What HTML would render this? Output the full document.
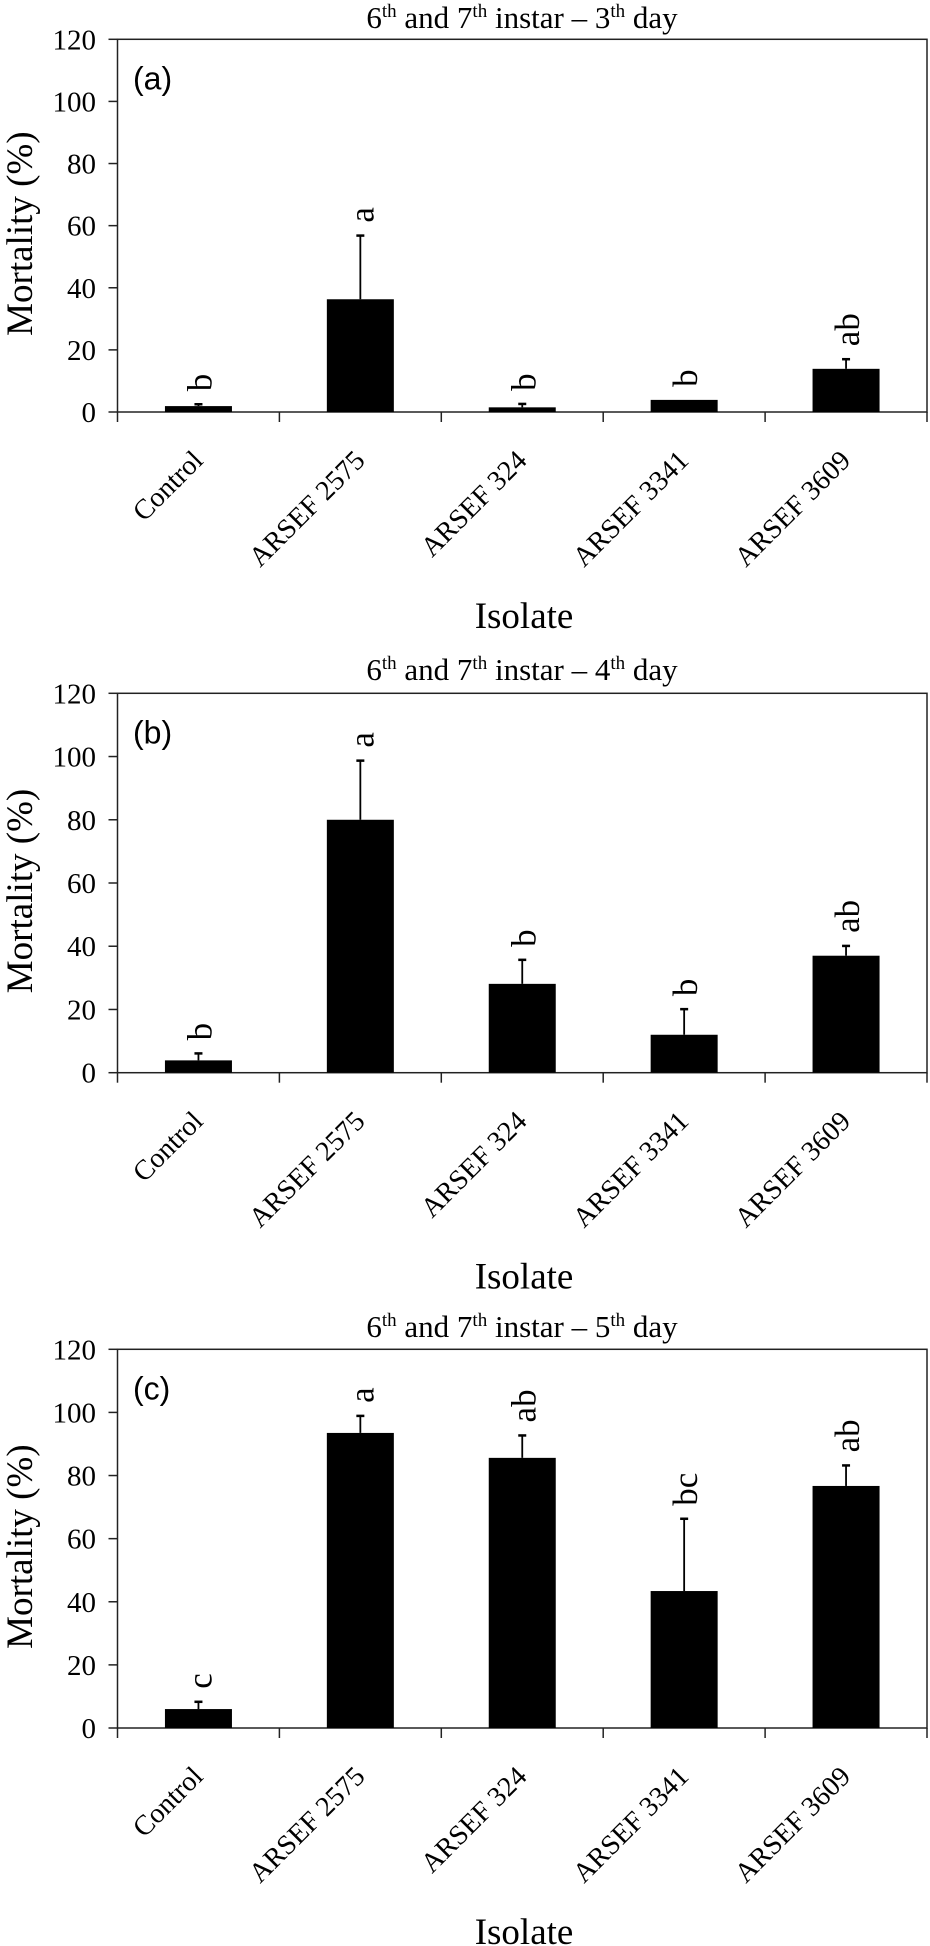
<!DOCTYPE html>
<html><head><meta charset="utf-8"><style>
html,body{margin:0;padding:0;background:#fff;}
svg{display:block;}
svg text{font-family:"Liberation Serif","Times New Roman",serif;fill:#000;}
</style></head>
<body>
<svg id="fig" width="930" height="1946" viewBox="0 0 930 1946" xmlns="http://www.w3.org/2000/svg" font-family="Liberation Serif, serif"></svg>
<script>
const categories = ["Control","ARSEF 2575","ARSEF 324","ARSEF 3341","ARSEF 3609"];
const yTicks = [0,20,40,60,80,100,120];
const titlesDay = ["3","4","5"];
const panelLetters = ["(a)","(b)","(c)"];
const valuesA = [1.9, 36.3, 1.5, 3.9, 13.9];
const errTopA = [2.5, 56.8, 2.6, 3.9, 17.0];
const lettersA = ["b","a","b","b","ab"];
const valuesB = [3.9, 80.0, 28.1, 12.0, 37.0];
const errTopB = [6.1, 98.7, 35.7, 20.1, 40.1];
const lettersB = ["b","a","b","b","ab"];
const valuesC = [6.0, 93.5, 85.6, 43.4, 76.7];
const errTopC = [8.3, 98.9, 92.7, 66.3, 83.2];
const lettersC = ["c","a","ab","bc","ab"];

const NS = "http://www.w3.org/2000/svg";
const svg = document.getElementById("fig");
const SERIF = '"Liberation Serif", serif';
function mk(tag, attrs, parent){
  const e = document.createElementNS(NS, tag);
  for (const k in attrs) e.setAttribute(k, attrs[k]);
  if (tag === "text" && !attrs.style) e.setAttribute("style", "font-family:" + SERIF);
  (parent||svg).appendChild(e);
  return e;
}
const layouts = [
  {top:39.3, bottom:412, left:117.5, right:927, titleY:28},
  {top:693.3, bottom:1072.7, left:117.5, right:927, titleY:680},
  {top:1349.3, bottom:1728, left:117.5, right:927, titleY:1337}
];
const panelVals = [valuesA, valuesB, valuesC];
const panelErr = [errTopA, errTopB, errTopC];
const panelSig = [lettersA, lettersB, lettersC];

layouts.forEach((L, p) => {
  const g = mk("g", {});
  
  
  const y = v => L.bottom - (v/120)*(L.bottom - L.top);
  const catW = (L.right - L.left)/categories.length;
  const xc = i => L.left + catW*(i+0.5);

  const t = mk("text", {x:522, y:L.titleY, "font-size":31, "text-anchor":"middle"}, g);
  
  
  t.innerHTML = '6<tspan font-size="19" dy="-11">th</tspan><tspan dy="11"> and 7</tspan><tspan font-size="19" dy="-11">th</tspan><tspan dy="11"> instar – ' + titlesDay[p] + '</tspan><tspan font-size="19" dy="-11">th</tspan><tspan dy="11"> day</tspan>';

  const fr = mk("rect", {x:L.left, y:L.top, width:L.right-L.left, height:L.bottom-L.top, fill:"none", stroke:"#222", "stroke-width":1.5}, g);
  
  

  yTicks.forEach(v => {
    const tk = mk("line", {x1:L.left-9, x2:L.left, y1:y(v), y2:y(v), stroke:"#222", "stroke-width":1.5}, g);
    
    
    const tl = mk("text", {x:96, y:y(v)+10, "font-size":29, "text-anchor":"end"}, g);
    
    
    tl.textContent = v;
  });
  for (let i=0;i<=categories.length;i++){
    const xt = L.left + catW*i;
    const tk = mk("line", {x1:xt, x2:xt, y1:L.bottom, y2:L.bottom+10, stroke:"#222", "stroke-width":1.5}, g);
    
    
  }
  const yt = mk("text", {x:0, y:0, "font-size":37, "text-anchor":"middle", transform:`translate(32,${(L.top+L.bottom)/2+8}) rotate(-90)`}, g);
  
  
  yt.textContent = "Mortality (%)";
  const xt = mk("text", {x:524, y:L.bottom+216, "font-size":37, "text-anchor":"middle"}, g);
  
  
  xt.textContent = "Isolate";
  const pl = mk("text", {x:133, y:L.top+50, "font-size":32, style:'font-family:"Liberation Sans",sans-serif'}, g);
  
  
  pl.textContent = panelLetters[p];

  const vals = panelVals[p], errs = panelErr[p], sig = panelSig[p];
  categories.forEach((c, i) => {
    const cx = xc(i);
    const cl = mk("text", {x:0, y:0, "font-size":28, "text-anchor":"end", transform:`translate(${cx+6},${L.bottom+50}) rotate(-45)`}, g);
    
    
    cl.textContent = c;
    const b = mk("rect", {x:cx-33.5, y:y(vals[i]), width:67, height:L.bottom-y(vals[i]), fill:"#000"}, g);
    
    
    if (errs[i] > vals[i]) {
      const el = mk("line", {x1:cx, x2:cx, y1:y(vals[i]), y2:y(errs[i]), stroke:"#000", "stroke-width":1.8}, g);
      
      
      const ec = mk("line", {x1:cx-4, x2:cx+4, y1:y(errs[i]), y2:y(errs[i]), stroke:"#000", "stroke-width":2.5}, g);
      
      
    }
    const top = Math.max(errs[i], vals[i]);
    const sl = mk("text", {x:0, y:0, "font-size":35, "text-anchor":"start", transform:`translate(${cx+13},${y(top)-13}) rotate(-90)`}, g);
    
    
    sl.textContent = sig[i];
  });
});
</script>
</body></html>
